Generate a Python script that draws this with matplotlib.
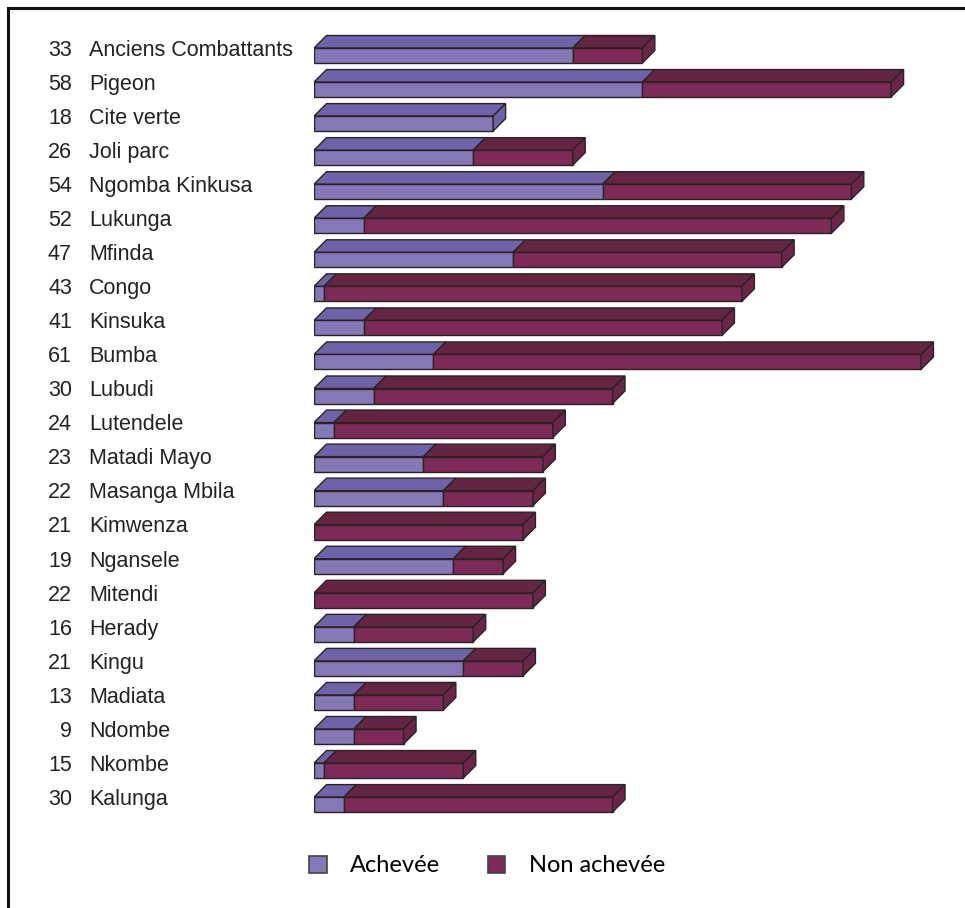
import matplotlib
matplotlib.use("Agg")
import matplotlib.pyplot as plt
from matplotlib.patches import Polygon, Patch
from matplotlib.lines import Line2D
from matplotlib.transforms import blended_transform_factory

# Données : quartiers, total et répartition achevée / non achevée
quartiers = ["Anciens Combattants", "Pigeon", "Cite verte", "Joli parc", "Ngomba Kinkusa",
             "Lukunga", "Mfinda", "Congo", "Kinsuka", "Bumba", "Lubudi", "Lutendele",
             "Matadi Mayo", "Masanga Mbila", "Kimwenza", "Ngansele", "Mitendi", "Herady",
             "Kingu", "Madiata", "Ndombe", "Nkombe", "Kalunga"]
totaux = [33, 58, 18, 26, 54, 52, 47, 43, 41, 61, 30, 24, 23, 22, 21, 19, 22, 16, 21, 13, 9, 15, 30]
achevee = [26, 33, 18, 16, 29, 5, 20, 1, 5, 12, 6, 2, 11, 13, 0, 14, 0, 4, 15, 4, 4, 1, 3]
non_achevee = [7, 25, 0, 10, 25, 47, 27, 42, 36, 49, 24, 22, 12, 9, 21, 5, 22, 12, 6, 9, 5, 14, 27]
legende = ["Achevée", "Non achevée"]

# Couleurs (face avant, dessus, côté)
col_ach = ("#8478b6", "#6e62a9", "#6e62a9")
col_non = ("#7e2a56", "#642543", "#6a2548")
edge = "#2b2226"

W, H = 965, 908
fig = plt.figure(figsize=(W / 100, H / 100), dpi=100)

# axes en pixels : x = 0 à 314 px, environ 9.95 px par unité
px_unit = 9.95
row_px = 34.05
ax_left, ax_right = 314, 955
ax_top, ax_bot = 20, 840
ax = fig.add_axes([ax_left / W, 1 - ax_bot / H, (ax_right - ax_left) / W, (ax_bot - ax_top) / H])
ax.set_xlim(0, (ax_right - ax_left) / px_unit)
y0 = (55.5 - ax_top) / row_px
ax.set_ylim((ax_bot - ax_top) / row_px - y0, -y0)
ax.axis("off")

bar_h = 15 / row_px
dx = 12.5 / px_unit
dy = 12.5 / row_px


def bloc(x0, x1, y, cols, right_face):
    yt = y - bar_h / 2
    yb = y + bar_h / 2
    # dessus
    ax.add_patch(Polygon([(x0, yt), (x0 + dx, yt - dy), (x1 + dx, yt - dy), (x1, yt)],
                         closed=True, facecolor=cols[1], edgecolor=edge, lw=1.0, zorder=2))
    # face avant
    ax.barh(y, x1 - x0, left=x0, height=bar_h, color=cols[0], edgecolor=edge, lw=1.0, zorder=3)
    if right_face:
        ax.add_patch(Polygon([(x1, yt), (x1 + dx, yt - dy), (x1 + dx, yb - dy), (x1, yb)],
                             closed=True, facecolor=cols[2], edgecolor=edge, lw=1.0, zorder=3))


for i in range(len(quartiers)):
    a = achevee[i]
    n = non_achevee[i]
    if a > 0:
        bloc(0, a, i, col_ach, n == 0)
    if n > 0:
        bloc(a, a + n, i, col_non, True)

# étiquettes à gauche
tr = blended_transform_factory(fig.transFigure, ax.transData)
for i, (q, t) in enumerate(zip(quartiers, totaux)):
    yl = i - dy / 2 + 0.03
    ax.text(72 / W, yl, str(t), transform=tr, ha="right", va="center",
            fontsize=15.5, family="Liberation Sans", color="#222222")
    ax.text(89 / W, yl, q, transform=tr, ha="left", va="center",
            fontsize=15.5, family="Liberation Sans", color="#222222")

# légende
handles = [Patch(facecolor=col_ach[0], edgecolor="#444444", lw=1.2),
           Patch(facecolor=col_non[0], edgecolor="#444444", lw=1.2)]
fig.legend(handles, legende, loc="center", bbox_to_anchor=(487 / W, 1 - 866 / H), ncol=2,
           frameon=False, handlelength=0.75, handleheight=0.75, handletextpad=1.0,
           columnspacing=2.0, prop={"family": "Lato", "size": 17})

# cadre (haut et gauche)
fig.add_artist(Line2D([8 / W, 1], [1 - 7.5 / H, 1 - 7.5 / H], color="#111111", lw=2.2))
fig.add_artist(Line2D([8 / W, 8 / W], [0, 1 - 7.5 / H], color="#111111", lw=2.2))

fig.savefig("out.png", dpi=100, facecolor="white")
